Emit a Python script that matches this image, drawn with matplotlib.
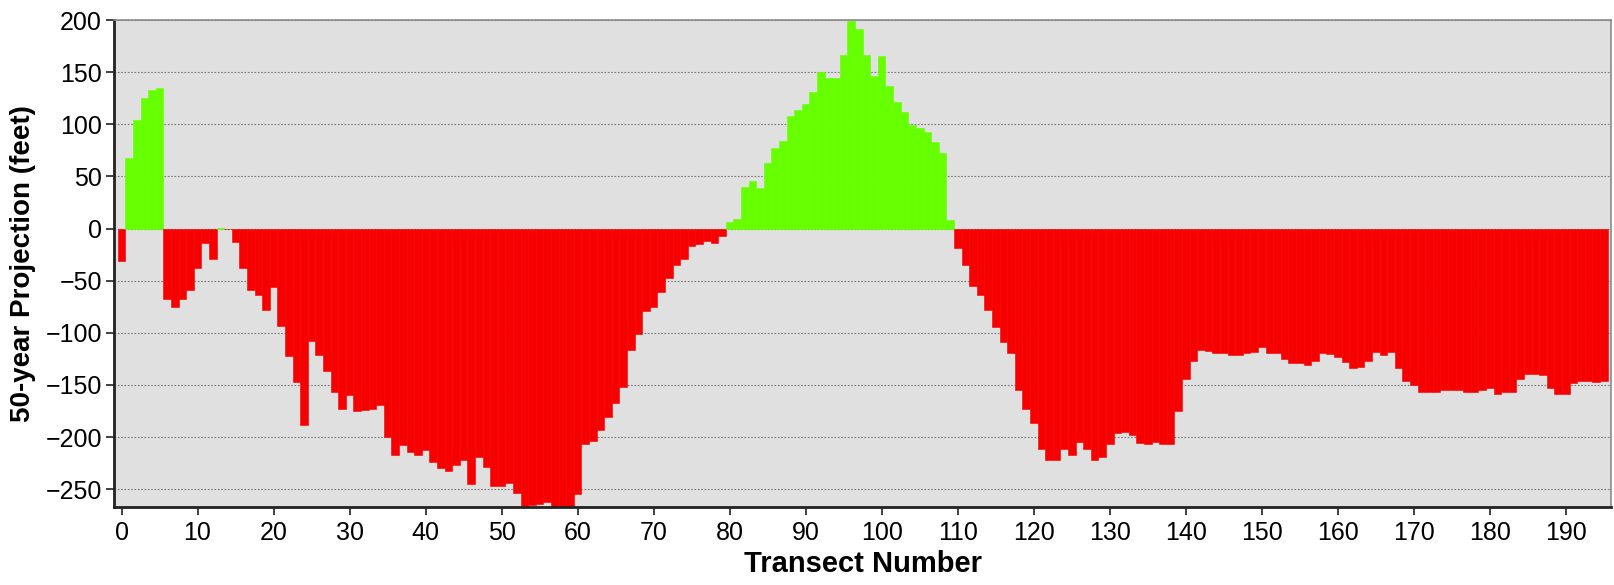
import matplotlib
matplotlib.use('Agg')
import matplotlib.pyplot as plt

# ── Data: 50-year shoreline projection per transect ──

transects = list(range(196))
projection_ft = [
    -31, 68, 104, 125, 133, 135, -68, -75, -68, -59,
    -38, -14, -29, 1, 0, -13, -38, -59, -64, -78,
    -56, -93, -122, -147, -188, -108, -121, -137, -157, -173,
    -160, -175, -174, -173, -169, -200, -217, -208, -214, -217,
    -212, -224, -230, -232, -227, -222, -245, -219, -229, -247,
    -247, -244, -254, -266, -265, -264, -262, -270, -270, -270,
    -255, -207, -204, -193, -181, -167, -152, -116, -101, -79,
    -75, -61, -47, -35, -29, -17, -15, -12, -14, -7,
    6, 9, 40, 46, 39, 63, 77, 84, 108, 114,
    119, 131, 150, 144, 144, 166, 199, 191, 166, 146,
    165, 137, 121, 112, 99, 96, 93, 83, 72, 8,
    -19, -35, -55, -64, -78, -94, -109, -119, -155, -173,
    -186, -211, -222, -222, -211, -217, -205, -211, -222, -219,
    -207, -196, -195, -198, -206, -207, -205, -207, -207, -175,
    -144, -127, -116, -117, -119, -119, -121, -121, -119, -118,
    -114, -119, -119, -125, -129, -129, -131, -127, -119, -120,
    -123, -128, -134, -133, -127, -118, -121, -118, -134, -146,
    -150, -157, -157, -157, -155, -155, -155, -157, -157, -155,
    -153, -159, -157, -157, -144, -139, -139, -140, -153, -159,
    -159, -148, -146, -146, -147, -146,
]

x_ticks = list(range(0, 191, 10))
y_ticks = list(range(-250, 201, 50))

GREEN = '#66FF00'
RED = '#F60000'

# ── Plot ─────────────────────────────────────────────────────────────────

plt.rcParams['font.family'] = ['Liberation Sans', 'DejaVu Sans']

W, H = 1614, 585
fig = plt.figure(figsize=(W / 100, H / 100), dpi=100)
ax = fig.add_axes([114.3 / W, 1 - 507 / H, (1610.7 - 114.3) / W, (507 - 20) / H])

colors = [GREEN if v > 0 else RED for v in projection_ft]
ax.bar(transects, projection_ft, width=1.0, color=colors,
       edgecolor=colors, linewidth=0.4, zorder=2)

ax.set_facecolor('#E0E0E0')
ax.set_xlim(-0.95, 195.9)
ax.set_ylim(-267, 199.5)
ax.set_xticks(x_ticks)
ax.set_yticks(y_ticks)
ax.tick_params(axis='both', direction='out', length=6, width=1.3,
               labelsize=18, color='#333333')
ax.tick_params(axis='x', pad=4)
ax.tick_params(axis='y', pad=3)

ax.yaxis.grid(True, linestyle=(0, (1.5, 1.5)), color='#7a7a7a', linewidth=0.8)
ax.set_axisbelow(True)

for side in ('left', 'bottom'):
    ax.spines[side].set_color('#222222')
    ax.spines[side].set_linewidth(2)
for side in ('top', 'right'):
    ax.spines[side].set_color('#8a8a8a')
    ax.spines[side].set_linewidth(1.2)

ax.set_xlabel('Transect Number', fontsize=21, fontweight='bold', labelpad=3.5)
fig.text(23.5 / W, 1 - 263.5 / H, '50-year Projection (feet)', rotation=90,
         ha='center', va='center', fontsize=20, fontweight='bold')

fig.savefig('out.png', dpi=100)
